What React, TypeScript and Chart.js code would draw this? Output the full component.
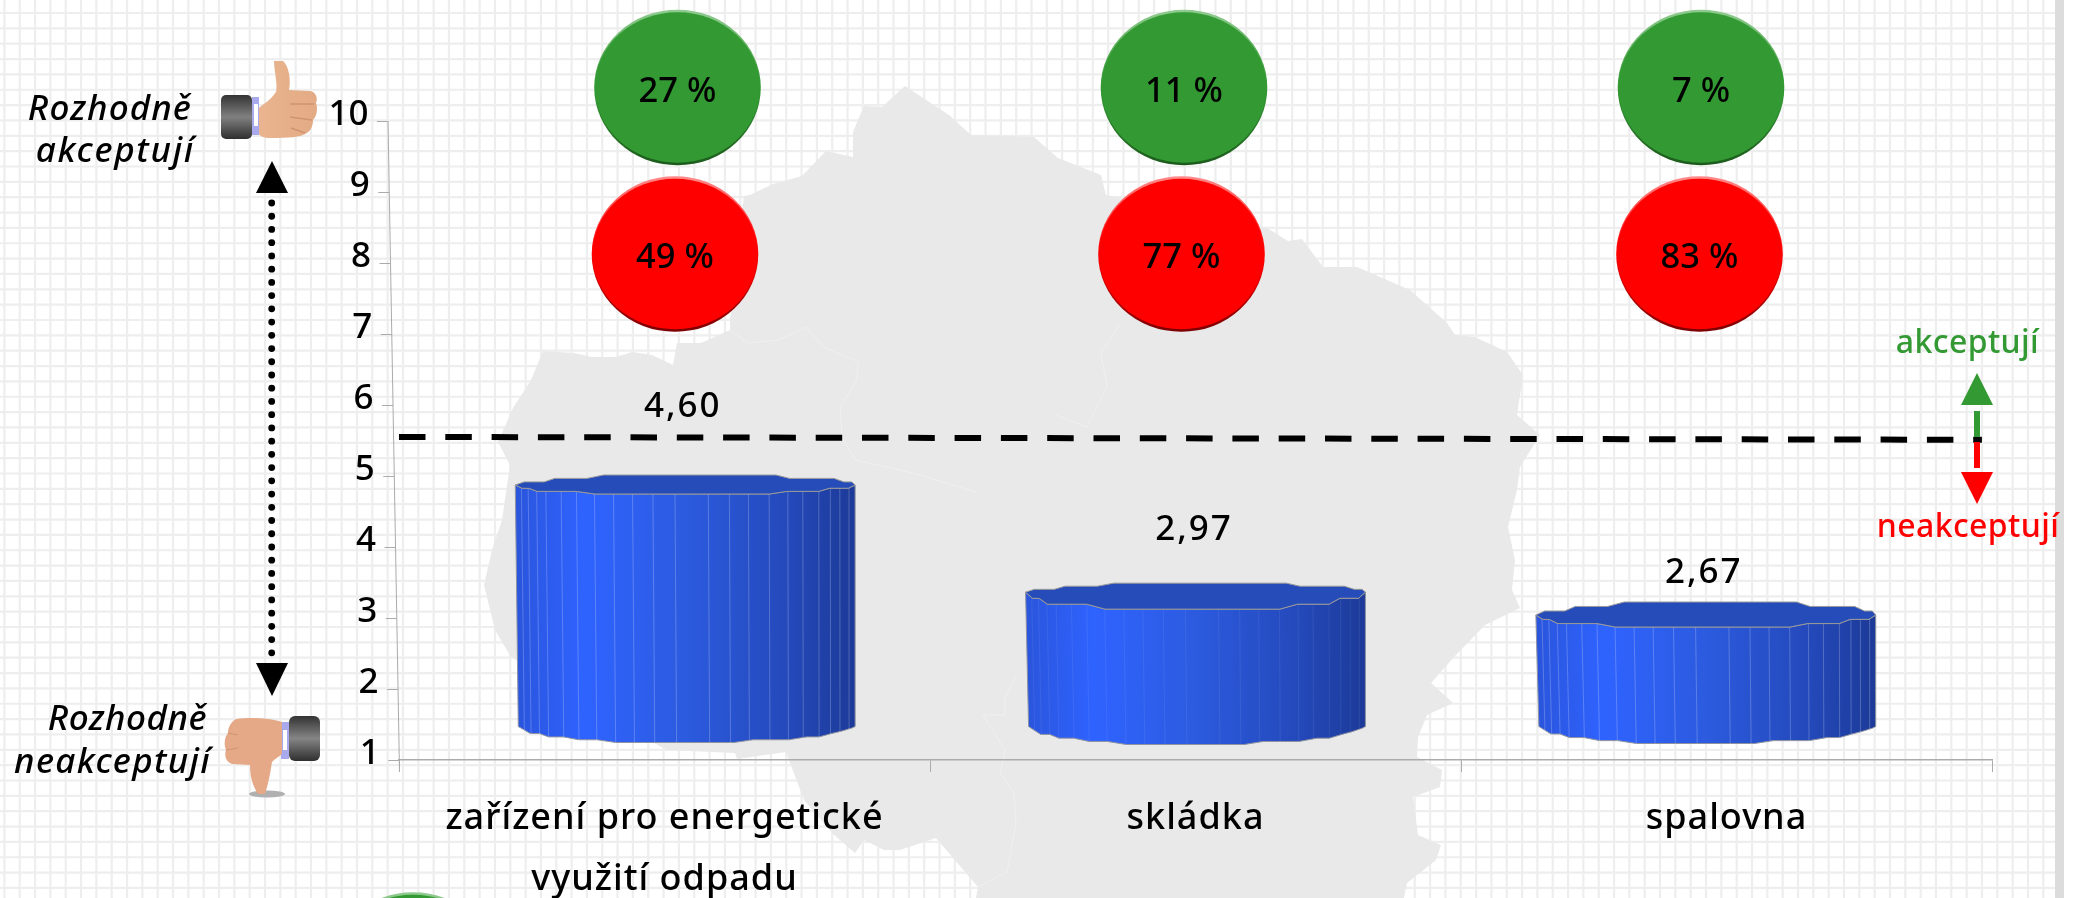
import React, { useEffect, useRef } from "react";
import { Chart, registerables, LinearScale, CategoryScale } from "chart.js";

// ---- data ----
const categories = [["zařízení pro energetické", "využití odpadu"], "skládka", "spalovna"];
const meanScores = [4.6, 2.97, 2.67];
const acceptPercent = [27, 11, 7];
const rejectPercent = [49, 77, 83];
const thresholdLine = [
  { x: -0.5, y: 5.55 },
  { x: 2.481, y: 5.51 },
];
const yMin = 1;
const yMax = 10;

// ---- drawing constants ----
const FONT = '"Noto Sans", sans-serif';
const GREEN = "#339933";
const RED = "#ff0000";
const AXIS = "#ababab";

const barLift = [19.4, 28, 26.4];
const barBackRise = [10, 9, 13];
const barFrontDrop = [9, 17, 12];
const barBaseLift = 33;
const barBaseDrop = [16, 18, 17];
const facetAlpha = [0.22, 0.07, 0.22];
const labelRise = [87, 80, 58];
const labelShift = [-2.5, -1.5, -2];
const circleShiftGreen = [13, -11.5, -25.5];
const circleShiftRed = [10.5, -14, -27];

const topFront = [[0, 0], [0.02, 0.36], [0.04, 0.37], [0.064, 0.71], [0.18, 0.71], [0.234, 1], [0.748, 1], [0.8, 0.71], [0.893, 0.71], [0.925, 0.36], [0.98, 0.36], [1, 0]];
const topBack = [[0, 0], [0.026, 0.31], [0.085, 0.31], [0.116, 0.66], [0.211, 0.66], [0.26, 1], [0.767, 1], [0.807, 0.66], [0.938, 0.66], [0.967, 0.31], [0.99, 0.31], [1, 0]];
const bottomFront = [[0, 0], [0.036, 0.44], [0.063, 0.44], [0.09, 0.65], [0.134, 0.65], [0.18, 0.83], [0.234, 0.83], [0.29, 1], [0.64, 1], [0.697, 0.83], [0.803, 0.83], [0.856, 0.65], [0.893, 0.65], [0.93, 0.44], [0.958, 0.3], [0.99, 0.1], [1, 0]];
const facetLines = [0.018, 0.038, 0.063, 0.09, 0.135, 0.18, 0.233, 0.289, 0.345, 0.405, 0.47, 0.568, 0.63, 0.686, 0.747, 0.802, 0.846, 0.893, 0.927, 0.955, 0.982];

const mapOutline = [
  [513, 408], [531, 380], [543, 351], [574, 353], [592, 357], [616, 357], [632, 352], [652, 355], [673, 365], [677, 343], [701, 343], [730, 330], [730, 320],
  [744, 196], [750, 195], [773, 184], [802, 176], [826, 151], [853, 157], [853, 132], [864, 106], [882, 107], [905, 86], [949, 115], [971, 135], [1034, 137], [1058, 158], [1101, 175], [1106, 195],
  [1267, 228], [1288, 241], [1302, 239], [1323, 267], [1357, 267], [1410, 290], [1447, 323], [1455, 335], [1475, 337], [1507, 352], [1523, 375], [1517, 415], [1540, 435], [1520, 467], [1517, 490], [1508, 527],
  [1515, 560], [1512, 590], [1520, 608], [1485, 625], [1454, 657], [1431, 683], [1453, 703], [1427, 715], [1418, 737], [1417, 757], [1442, 770], [1440, 787], [1413, 797], [1418, 835], [1441, 845], [1436, 860], [1407, 883], [1404, 898],
  [976, 898], [978, 887], [936, 838], [900, 850], [884, 850], [864, 840], [855, 853], [832, 833], [804, 800], [786, 752], [737, 759], [735, 753], [666, 750],
  [511, 657], [495, 630], [484, 585], [492, 550], [502, 520], [510, 465], [498, 442],
];
const mapDistrictLines = [
  [[730, 330], [748, 343], [779, 340], [806, 327], [824, 347], [837, 353], [859, 362], [856, 382], [840, 407], [842, 437], [855, 460], [913, 473], [976, 492]],
  [[1121, 323], [1101, 353], [1107, 387], [1087, 427], [1056, 415]],
  [[1016, 677], [1005, 697], [1005, 715], [983, 715], [1005, 750], [1000, 773], [1014, 793], [1016, 823], [1007, 872], [978, 887]],
];

const axisXAt = (y: number) => 388 + ((y - 121) * 11.5) / 651;

class TiltedLinearScale extends LinearScale {
  static id = "tiltedLinear";
  static defaults = LinearScale.defaults;
  getLabelItems(area: any) {
    return super.getLabelItems(area).map((it: any) => {
      const y = it.options.translation[1];
      return { ...it, options: { ...it.options, translation: [axisXAt(y) - 19.5, y - 6] } };
    });
  }
  _computeGridLineItems(area: any) {
    return (LinearScale.prototype as any)._computeGridLineItems.call(this, area).map((it: any) => ({
      ...it,
      tx1: axisXAt(it.ty1) - 11,
      tx2: axisXAt(it.ty1),
    }));
  }
  drawBorder() {
    const c = (this as any).ctx;
    c.save();
    c.strokeStyle = AXIS;
    c.lineWidth = 1;
    c.beginPath();
    c.moveTo(axisXAt(121), 121);
    c.lineTo(axisXAt(772), 772);
    c.stroke();
    c.restore();
  }
}

// Category axis whose labels are letter-spaced and which accepts fractional
// positions, so the threshold line can run between the category slots.
class SpacedCategoryScale extends CategoryScale {
  static id = "spacedCategory";
  static defaults = CategoryScale.defaults;
  parse(raw: any, index: any) {
    return typeof raw === "number" ? raw : (super.parse as any)(raw, index);
  }
  drawLabels(area: any) {
    const c = (this as any).ctx as any;
    c.letterSpacing = "1px";
    super.drawLabels(area);
    c.letterSpacing = "0px";
  }
}

Chart.register(...registerables, TiltedLinearScale, SpacedCategoryScale);

const profileAt = (profile: number[][], u: number) => {
  for (let i = 1; i < profile.length; i++) {
    if (u <= profile[i][0]) {
      const [a, va] = profile[i - 1];
      const [b, vb] = profile[i];
      return va + ((vb - va) * (u - a)) / (b - a || 1);
    }
  }
  return 0;
};

function renderCylinder(c: CanvasRenderingContext2D, el: any, i: number, centre: number) {
  const x0 = el.x + (centre - el.x) * 0.039;
  const w = el.width;
  const left = x0 - w / 2;
  const topY = el.y - barLift[i];
  const baseY = el.base - barBaseLift;
  const bottomInset = 3;

  c.save();
  const grad = c.createLinearGradient(left, 0, left + w, 0);
  grad.addColorStop(0, "#2a55dc");
  grad.addColorStop(0.2, "#2f63ff");
  grad.addColorStop(0.5, "#2c5bdf");
  grad.addColorStop(0.8, "#2449bb");
  grad.addColorStop(1, "#1c3a98");

  const px = (u: number) => left + u * w;
  const pxB = (u: number) => left + bottomInset * (1 - u) + u * w;
  const topFrontY = (v: number) => topY + v * barFrontDrop[i];
  const botY = (v: number) => baseY + v * barBaseDrop[i];

  c.beginPath();
  topFront.forEach(([u, v], k) => (k ? c.lineTo(px(u), topFrontY(v)) : c.moveTo(px(u), topFrontY(v))));
  [...bottomFront].reverse().forEach(([u, v]) => c.lineTo(pxB(u), botY(v)));
  c.closePath();
  c.fillStyle = grad;
  c.fill();
  c.strokeStyle = "#8f93a0";
  c.lineWidth = 1;
  c.stroke();

  c.strokeStyle = `rgba(255,255,255,${facetAlpha[i]})`;
  facetLines.forEach((u) => {
    c.beginPath();
    c.moveTo(px(u), topFrontY(profileAt(topFront, u)));
    c.lineTo(pxB(u), botY(profileAt(bottomFront, u)));
    c.stroke();
  });

  c.beginPath();
  topFront.forEach(([u, v], k) => (k ? c.lineTo(px(u), topFrontY(v)) : c.moveTo(px(u), topFrontY(v))));
  [...topBack].reverse().forEach(([u, v]) => c.lineTo(px(u), topY - v * barBackRise[i]));
  c.closePath();
  c.fillStyle = "#254cb8";
  c.fill();
  c.strokeStyle = "#9a9a9a";
  c.stroke();
  c.restore();
}

function drawBall(c: CanvasRenderingContext2D, cx: number, cy: number, base: string, hi: string, lo: string) {
  const rx = 83.3;
  const ry = 77.8;
  c.save();
  c.beginPath();
  c.ellipse(cx, cy, rx, ry, 0, 0, Math.PI * 2);
  const g = c.createLinearGradient(0, cy - ry, 0, cy + ry);
  g.addColorStop(0, hi);
  g.addColorStop(0.5, base);
  g.addColorStop(1, lo);
  c.fillStyle = g;
  c.fill();
  c.beginPath();
  c.ellipse(cx, cy, rx - 0.8, ry - 2.6, 0, 0, Math.PI * 2);
  c.fillStyle = base;
  c.fill();
  c.restore();
}

function triangle(c: CanvasRenderingContext2D, pts: number[][], fill: string) {
  c.beginPath();
  pts.forEach(([x, y], k) => (k ? c.lineTo(x, y) : c.moveTo(x, y)));
  c.closePath();
  c.fillStyle = fill;
  c.fill();
}

function text(c: any, s: string, x: number, y: number, font: string, color: string, align: CanvasTextAlign = "center", spacing = 0) {
  c.save();
  c.font = font;
  c.fillStyle = color;
  c.textAlign = align;
  c.textBaseline = "alphabetic";
  c.letterSpacing = `${spacing}px`;
  c.fillText(s, x, y);
  c.restore();
}

function drawThumbUp(c: CanvasRenderingContext2D) {
  const cuff = c.createLinearGradient(0, 95, 0, 139);
  cuff.addColorStop(0, "#333");
  cuff.addColorStop(0.5, "#808080");
  cuff.addColorStop(1, "#2f2f2f");
  c.fillStyle = cuff;
  c.beginPath();
  c.roundRect(221, 95, 31, 44, 5);
  c.fill();
  c.fillStyle = "#a9a9ee";
  c.fillRect(252, 97, 7, 38);
  c.fillStyle = "#ffffff";
  c.fillRect(254, 104, 4, 22);
  const skin = c.createLinearGradient(259, 0, 317, 0);
  skin.addColorStop(0, "#e9b48f");
  skin.addColorStop(1, "#e3ab85");
  c.fillStyle = skin;
  c.fill(new Path2D("M259,108 C263,104 270,101 276,92 C278,85 274,70 274,61 L283,61 C289,66 291,80 289,90 L310,91 C316,92 318,98 316,103 C318,108 317,116 313,120 C313,127 310,132 305,134 C300,137 290,138 270,138 C264,138 260,136 259,134 Z"));
  c.strokeStyle = "#cf9470";
  c.lineWidth = 1.5;
  c.stroke(new Path2D("M290,104 L314,104 M290,117 L312,120 M291,128 L305,133"));
}

function drawThumbDown(c: CanvasRenderingContext2D) {
  c.fillStyle = "#b0b0b0";
  c.beginPath();
  c.ellipse(267, 794, 18, 3.5, 0, 0, Math.PI * 2);
  c.fill();
  const cuff = c.createLinearGradient(0, 716, 0, 761);
  cuff.addColorStop(0, "#333");
  cuff.addColorStop(0.5, "#858585");
  cuff.addColorStop(1, "#2f2f2f");
  c.fillStyle = cuff;
  c.beginPath();
  c.roundRect(289, 716, 31, 45, 6);
  c.fill();
  c.fillStyle = "#a9a9ee";
  c.fillRect(281, 722, 8, 37);
  c.fillStyle = "#ffffff";
  c.fillRect(283, 730, 4, 20);
  c.fillStyle = "#e5a988";
  c.fill(new Path2D("M282,722 C270,718 250,717 236,719 C231,722 228,727 228,733 C224,738 224,745 226,750 C224,756 226,762 232,764 L250,765 C250,775 252,785 258,794 L265,794 C268,785 270,775 272,762 C276,758 280,756 282,754 Z"));
  c.strokeStyle = "#cf9470";
  c.lineWidth = 1.2;
  c.stroke(new Path2D("M228,733 L238,735 M226,750 L238,748"));
}

const scenery = {
  id: "scenery",
  beforeDraw(chart: any) {
    const c: CanvasRenderingContext2D = chart.ctx;
    c.save();
    c.fillStyle = "#ffffff";
    c.fillRect(0, 0, 2073, 898);
    c.strokeStyle = "#eeeeee";
    c.lineWidth = 2.2;
    c.beginPath();
    for (let x = 4.4; x < 2055; x += 15.33) {
      c.moveTo(x, 0);
      c.lineTo(x, 898);
    }
    for (let y = 13; y < 898; y += 15.35) {
      c.moveTo(0, y);
      c.lineTo(2055, y);
    }
    c.stroke();
    c.fillStyle = "#dcdcdc";
    c.fillRect(2055, 0, 9, 898);
    c.fillStyle = "#e9e9e9";
    c.beginPath();
    mapOutline.forEach(([x, y], k) => (k ? c.lineTo(x, y) : c.moveTo(x, y)));
    c.closePath();
    c.fill();
    c.strokeStyle = "#f0f0f0";
    c.lineWidth = 1;
    mapDistrictLines.forEach((line) => {
      c.beginPath();
      line.forEach(([x, y], k) => (k ? c.lineTo(x, y) : c.moveTo(x, y)));
      c.stroke();
    });
    c.restore();
  },
  beforeDatasetDraw(chart: any, args: any) {
    if (args.meta.type !== "bar") return;
    const centre = (chart.chartArea.left + chart.chartArea.right) / 2;
    args.meta.data.forEach((el: any, i: number) => {
      el.draw = (c: CanvasRenderingContext2D) => renderCylinder(c, el, i, centre);
    });
  },
  afterDraw(chart: any) {
    const c: any = chart.ctx;
    const xs = chart.scales.x;
    c.save();
    meanScores.forEach((v, i) => {
      const el = chart.getDatasetMeta(0).data[i];
      const centre = (chart.chartArea.left + chart.chartArea.right) / 2;
      const x = el.x + (centre - el.x) * 0.039 + labelShift[i];
      text(c, v.toFixed(2).replace(".", ","), x, el.y - labelRise[i], `500 35px ${FONT}`, "#000", "center", 2);
    });
    categories.forEach((_, i) => {
      const gx = xs.getPixelForTick(i) + circleShiftGreen[i];
      const rx = xs.getPixelForTick(i) + circleShiftRed[i];
      drawBall(c, gx, 87.5, GREEN, "#8fcb8f", "#1c5a1c");
      drawBall(c, rx, 254, RED, "#ff8a8a", "#7a0000");
      text(c, `${acceptPercent[i]} %`, gx, 101.7, `500 34.5px ${FONT}`, "#000");
      text(c, `${rejectPercent[i]} %`, rx, 267.5, `500 34.5px ${FONT}`, "#000");
    });
    drawBall(c, 413, 970, GREEN, "#8fcb8f", "#1c5a1c");

    // acceptance scale at the left
    drawThumbUp(c);
    drawThumbDown(c);
    c.fillStyle = "#000";
    for (let y = 203; y <= 653; y += 13.23) {
      c.beginPath();
      c.arc(271.7, y, 3.4, 0, Math.PI * 2);
      c.fill();
    }
    triangle(c, [[272, 161], [288, 193], [256, 193]], "#000");
    triangle(c, [[256, 663], [288, 663], [272, 696]], "#000");
    const it = `italic 500 35px ${FONT}`;
    text(c, "Rozhodně", 192, 120, it, "#000", "right", 1.1);
    text(c, "akceptují", 195, 162, it, "#000", "right", 1.7);
    text(c, "Rozhodně", 207, 730, it, "#000", "right", 0.5);
    text(c, "neakceptují", 211, 773, it, "#000", "right", 1.3);

    // threshold key at the right
    c.fillStyle = GREEN;
    c.fillRect(1974, 411, 6, 26);
    triangle(c, [[1977, 373], [1993, 405], [1961, 405]], GREEN);
    c.fillStyle = RED;
    c.fillRect(1974, 442, 6, 26);
    triangle(c, [[1961, 472], [1993, 472], [1977, 504]], RED);
    text(c, "akceptují", 1967.5, 353, `500 32px ${FONT}`, GREEN, "center", 0.4);
    text(c, "neakceptují", 1968, 537, `500 32px ${FONT}`, RED, "center", 0.4);
    c.restore();
  },
};

export default function App() {
  const ref = useRef<HTMLCanvasElement>(null);
  useEffect(() => {
    document.body.style.margin = "0";
    document.body.style.overflow = "hidden";
    const chart = new Chart(ref.current as HTMLCanvasElement, {
      type: "bar",
      data: {
        labels: categories as any,
        datasets: [
          {
            type: "bar",
            label: "Průměr",
            data: meanScores,
            base: yMin,
            backgroundColor: "#2f62ff",
            borderWidth: 0,
            barPercentage: 0.64,
            categoryPercentage: 1,
          },
          {
            type: "line",
            label: "Hranice",
            data: thresholdLine as any,
            borderColor: "#000",
            borderWidth: 6,
            borderDash: [26.5, 19.8],
            borderCapStyle: "butt",
            pointRadius: 0,
            tension: 0,
            clip: false,
          },
        ],
      },
      options: {
        responsive: false,
        animation: false,
        layout: { padding: { top: 121, right: 81, left: 0, bottom: 0 } },
        plugins: { legend: { display: false }, tooltip: { enabled: false }, title: { display: false } },
        scales: {
          x: {
            type: "spacedCategory",
            position: "bottom",
            offset: true,
            afterFit: (s: any) => {
              s.height = 138;
            },
            border: { display: true, color: AXIS, width: 1.5 },
            grid: { drawOnChartArea: false, drawTicks: true, tickLength: 12, color: AXIS, offset: true },
            ticks: {
              autoSkip: false,
              maxRotation: 0,
              minRotation: 0,
              padding: 16.5,
              color: "#000",
              font: { family: FONT, size: 36, weight: "500", lineHeight: 61 / 36 },
            },
          },
          y: {
            type: "tiltedLinear",
            position: "left",
            min: yMin,
            max: yMax,
            afterFit: (s: any) => {
              s.width = 399;
            },
            grid: { drawOnChartArea: false, drawTicks: true, tickLength: 11, color: AXIS },
            border: { display: true, color: AXIS },
            ticks: { stepSize: 1, color: "#000", padding: 8, font: { family: FONT, size: 35, weight: "500" } },
          },
        },
      } as any,
      plugins: [scenery],
    });
    return () => chart.destroy();
  }, []);
  return (
    <div style={{ position: "absolute", left: 0, top: 0, width: 2073, height: 898, overflow: "hidden" }}>
      <canvas ref={ref} width={2073} height={898} style={{ display: "block" }} />
    </div>
  );
}
